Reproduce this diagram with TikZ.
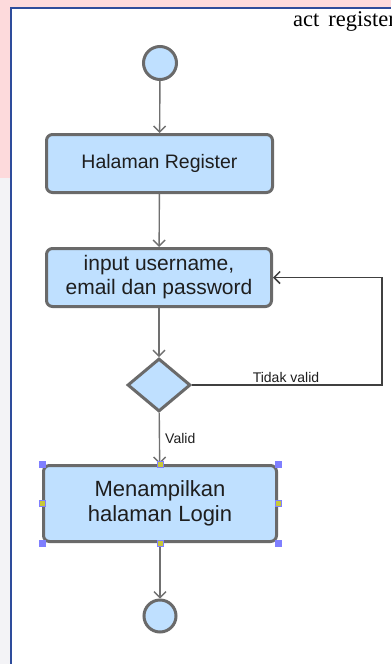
\documentclass[tikz,border=0pt]{standalone}
\usepackage{fontspec}
\setmainfont{Liberation Sans}
\newfontfamily\timesf{Liberation Serif}
\usetikzlibrary{shapes.geometric,arrows.meta}
\definecolor{boxfill}{HTML}{BFE0FF}
\definecolor{boxline}{HTML}{6A6A6A}
\definecolor{arrowc}{HTML}{707070}
\definecolor{pinkbg}{HTML}{FDDADC}
\definecolor{graybg}{HTML}{F3F3F6}
\definecolor{framec}{HTML}{2E4C9C}
\definecolor{handleb}{HTML}{7F7FFF}
\definecolor{handley}{HTML}{C8C83A}
\definecolor{txt}{HTML}{1E1E1E}
\begin{document}
\begin{tikzpicture}[x=1pt,y=-1pt,
  actbox/.style={rectangle,rounded corners=6pt,draw=boxline,fill=boxfill,line width=3pt,align=center,text=txt,inner sep=0pt},
  termcircle/.style={circle,draw=boxline,fill=boxfill,line width=3pt,inner sep=0pt},
  decision/.style={diamond,draw=boxline,fill=boxfill,line width=3pt,inner sep=0pt},
  flow/.style={draw=arrowc,line width=1.4pt,-{Straight Barb[length=6pt,width=12pt]}},
  loopline/.style={draw=black!75,line width=1.5pt,-{Straight Barb[length=6pt,width=12pt]}},
  lbl/.style={font=\fontsize{14}{16}\selectfont,text=txt,inner sep=0pt},
  cornerh/.style={rectangle,fill=handleb,minimum size=7pt,inner sep=0pt},
  midh/.style={rectangle,fill=handley,draw=handleb,line width=0.6pt,minimum size=6pt,inner sep=0pt}]
\useasboundingbox (0,0) rectangle (391,664);
% background
\fill[graybg] (0,0) rectangle (391,664);
\fill[pinkbg] (0,0) rectangle (391,8);
\fill[pinkbg] (0,0) rectangle (11,178);
\fill[white] (11,8) rectangle (391,664);
\draw[framec,line width=1.5pt] (11,664) -- (11,8) -- (391,8);
\node[anchor=base west,inner sep=0pt,font=\timesf\fontsize{22.5}{24}\selectfont] (title) at (293,26) {act\hspace{9pt}register};

% nodes
\node[termcircle,minimum size=33pt] (start) at (160,63) {};
\node[actbox,minimum width=226pt,minimum height=58pt,font=\fontsize{19.5}{23}\selectfont] (b1) at (159.5,163.5) {Halaman Register};
\node[actbox,minimum width=225pt,minimum height=58pt,font=\fontsize{21}{24}\selectfont] (b2) at (159,277.5) {input username,\\email dan password};
\node[decision,minimum width=63pt,minimum height=53pt] (d) at (159,385) {};
\node[actbox,minimum width=233pt,minimum height=76pt,font=\fontsize{22}{25}\selectfont] (b3) at (160,503.5) {Menampilkan\\halaman Login};
\node[termcircle,minimum size=32pt] (end) at (160,616) {};
\coordinate (lc) at (382,385);

% connectors
\draw[flow] (start) -- (b1);
\draw[flow] (b1) -- (b2);
\draw[flow] (b2) -- (d);
\draw[flow] (d) -- (b3);
\draw[flow] (b3) -- (end);
\draw[loopline] (d.east) -- (lc) |- (b2.east);

% labels
\node[lbl,anchor=base] (tv) at (286,382) {Tidak valid};
\node[lbl,anchor=base west] (v) at (165,443) {Valid};

% selection handles
\node[cornerh] (h1) at (b3.north west) {};
\node[cornerh] (h2) at (b3.north east) {};
\node[cornerh] (h3) at (b3.south west) {};
\node[cornerh] (h4) at (b3.south east) {};
\node[midh] (h5) at (b3.north) {};
\node[midh] (h6) at (b3.south) {};
\node[midh] (h7) at (b3.west) {};
\node[midh] (h8) at (b3.east) {};
\end{tikzpicture}
\end{document}
